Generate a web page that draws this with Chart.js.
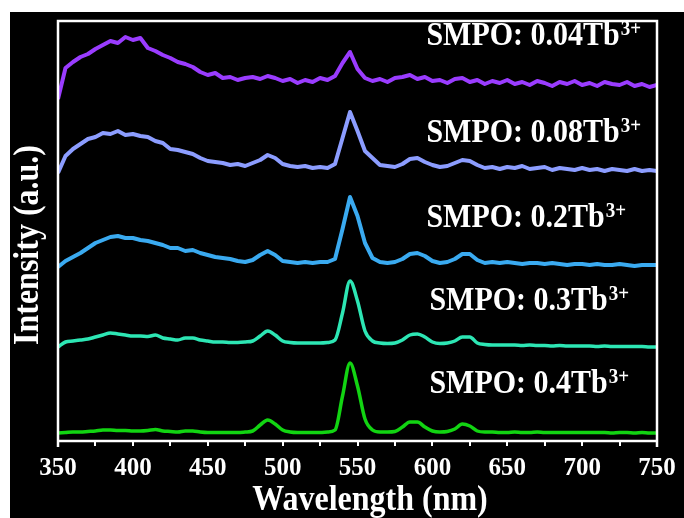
<!DOCTYPE html>
<html>
<head>
<meta charset="utf-8">
<script src="https://cdn.jsdelivr.net/npm/chart.js@4.4.1/dist/chart.umd.min.js"></script>
<style>
  body { margin: 0; background: #fff; }
  #box { position: absolute; left: 10px; top: 12px; width: 674px; height: 506px; background: #000; }
</style>
</head>
<body>
<div id="box"><canvas id="spectra"></canvas></div>
<script>
// x grid (nm)
const wavelength = [350, 355, 360, 365, 370, 375, 380, 385, 390, 395, 400, 405, 410, 415, 420, 425, 430, 435, 440, 445,
    450, 455, 460, 465, 470, 475, 480, 485, 490, 495, 500, 505, 510, 515, 520, 525, 530, 535, 540, 545,
    550, 555, 560, 565, 570, 575, 580, 585, 590, 595, 600, 605, 610, 615, 620, 625, 630, 635, 640, 645,
    650, 655, 660, 665, 670, 675, 680, 685, 690, 695, 700, 705, 710, 715, 720, 725, 730, 735, 740, 745, 750]

// intensities (a.u.), already stacked with offsets as in the figure
const tb004 = [342, 373, 379, 384, 387, 392, 396, 400, 398, 404, 401, 403, 393, 390, 386, 383, 379, 377, 374, 369,
    366, 368, 363, 364, 361, 363, 364, 362, 365, 363, 360, 362, 358, 361, 359, 363, 361, 365, 378, 389,
    372, 363, 360, 362, 359, 363, 364, 366, 362, 364, 360, 361, 358, 362, 363, 359, 361, 357, 360, 358,
    361, 357, 359, 356, 360, 358, 355, 359, 357, 360, 356, 358, 355, 359, 357, 356, 359, 355, 357, 354, 356]
const tb008 = [268, 285, 292, 297, 302, 304, 308, 307, 310, 306, 307, 305, 304, 300, 298, 292, 291, 289, 287, 283,
    280, 279, 278, 276, 277, 275, 278, 281, 286, 283, 277, 275, 274, 275, 273, 274, 273, 277, 303, 329,
    310, 290, 283, 276, 275, 274, 277, 282, 283, 279, 276, 274, 275, 278, 281, 280, 276, 273, 274, 272,
    274, 273, 275, 272, 273, 274, 271, 273, 272, 271, 273, 271, 272, 270, 272, 271, 270, 272, 270, 271, 270]
const tb02 = [174, 180, 184, 188, 193, 198, 201, 204, 205, 203, 203, 201, 200, 198, 196, 193, 193, 190, 191, 188,
    186, 184, 183, 182, 180, 179, 181, 186, 190, 186, 180, 179, 178, 179, 178, 179, 179, 182, 212, 244,
    225, 198, 183, 179, 178, 179, 182, 187, 188, 185, 180, 178, 179, 182, 187, 187, 181, 178, 179, 178,
    179, 178, 177, 178, 178, 177, 178, 177, 176, 177, 177, 176, 177, 176, 176, 177, 176, 175, 176, 176, 176]
const tb03 = [94, 99, 100, 101, 102, 104, 106, 108, 107, 106, 105, 105, 104.5, 106, 103, 102, 101, 103, 103, 101,
    100, 99, 99, 98.5, 98.5, 99, 100, 105, 110, 106, 100, 98.5, 98, 98, 98, 98, 98.5, 101, 128, 160,
    140, 110, 100, 98, 97.5, 98, 101, 106, 107, 104, 99, 97.5, 98, 100, 104, 104, 98, 96.5, 96, 96,
    96, 96, 95.5, 96, 95.5, 95.5, 95, 95.5, 95, 95, 95, 95, 94.5, 95, 94.5, 94.5, 94.5, 94.5, 94.5, 94, 94]
const tb04 = [8, 8.5, 9, 9, 9.5, 10, 11, 11, 10.5, 10.5, 10, 10, 10.5, 11.5, 10, 9.5, 9, 10, 10, 9,
    8.5, 8.5, 8.5, 8.5, 8.5, 9, 10, 16, 21, 17, 11, 9, 8.5, 8.5, 8.5, 8.5, 9, 11, 45, 78,
    55, 22, 11, 9, 9, 9.5, 14, 19, 19, 14, 10, 9, 9.5, 12, 17, 15, 10, 9, 9, 8.5,
    8.5, 9, 8.5, 8.5, 9, 8.5, 8.5, 8.5, 8.5, 8.5, 8.5, 8.5, 8.5, 8.5, 8, 8.5, 8.5, 8, 8.5, 8, 8]

const seriesNames = ['0.04', '0.08', '0.2', '0.3', '0.4']
const seriesColors = ['#9a3cff', '#8c9dff', '#3aaaf0', '#2de6b4', '#12d412']
const xTicks = [350, 400, 450, 500, 550, 600, 650, 700, 750]

const allSeries = [tb004, tb008, tb02, tb03, tb04]
const noisy = [true, true, true, false, false]
const labelY = [396, 299, 214, 131, 48] // baseline of each tag, in y units
const serif = "'Liberation Serif', 'Times New Roman', serif"

// text a bit taller than wide, like the original figure
function tallText(ctx, t, x, y, sy) {
    ctx.save()
    ctx.translate(x, y)
    ctx.scale(1, sy)
    ctx.fillText(t, 0, 0)
    ctx.restore()
}

const decor = {
    id: 'decor',
    afterDraw(chart) {
        const ctx = chart.ctx
        const a = chart.chartArea
        const xs = chart.scales.x, ys = chart.scales.y
        ctx.save()
        // frame
        ctx.strokeStyle = '#fff'
        ctx.lineWidth = 2.5
        ctx.beginPath()
        ctx.moveTo(a.left, a.bottom + 6)
        ctx.lineTo(a.left, a.top)
        ctx.lineTo(a.right, a.top)
        ctx.lineTo(a.right, a.bottom + 6)
        ctx.moveTo(a.left, a.bottom)
        ctx.lineTo(a.right, a.bottom)
        ctx.stroke()

        ctx.fillStyle = '#fff'
        // series tags
        seriesNames.forEach((n, i) => {
            const x = xs.getPixelForValue(i < 3 ? 596 : 598)
            const y = ys.getPixelForValue(labelY[i])
            ctx.font = 'bold 30px ' + serif
            ctx.textAlign = 'left'
            ctx.textBaseline = 'alphabetic'
            const t = 'SMPO: ' + n + 'Tb'
            tallText(ctx, t, x, y, 1.1)
            const w = ctx.measureText(t).width
            ctx.font = 'bold 19px ' + serif
            tallText(ctx, '3+', x + w + 1, y - 10, 1.1)
        })

        // axis titles
        ctx.font = 'bold 32px ' + serif
        ctx.textAlign = 'center'
        ctx.textBaseline = 'alphabetic'
        tallText(ctx, 'Wavelength (nm)', 360, 498, 1.1)
        ctx.translate(19, 233)
        ctx.rotate(-Math.PI / 2)
        ctx.scale(1, 1.1)
        ctx.textBaseline = 'middle'
        ctx.fillText('Intensity (a.u.)', 0, 0)
        ctx.restore()
    }
}

const datasets = allSeries.map((vals, i) => ({
    label: 'SMPO: ' + seriesNames[i] + 'Tb3+',
    data: wavelength.map((w, j) => ({ x: w, y: vals[j] })),
    borderColor: seriesColors[i],
    backgroundColor: seriesColors[i],
    borderWidth: noisy[i] ? 4 : 3.5,
    borderJoinStyle: 'round',
    pointRadius: 0,
    tension: 0,
    cubicInterpolationMode: noisy[i] ? 'default' : 'monotone'
}))

const chart = new Chart(document.getElementById('spectra'), {
    type: 'line',
    data: { datasets },
    options: {
        responsive: true,
        maintainAspectRatio: false,
        animation: false,
        layout: { padding: { left: 48, right: 27, top: 9, bottom: 0 } },
        plugins: { legend: { display: false }, tooltip: { enabled: false } },
        scales: {
            x: {
                type: 'linear',
                min: 350,
                max: 750,
                afterFit: s => { s.height = 77 },
                ticks: {
                    stepSize: 25,
                    autoSkip: false,
                    maxRotation: 0,
                    padding: 8,
                    color: '#fff',
                    font: { family: serif, size: 25, weight: 'bold' },
                    callback: v => xTicks.includes(v) ? v : ''
                },
                grid: { drawOnChartArea: false, color: '#fff', lineWidth: 2, tickLength: 5 },
                border: { display: false }
            },
            y: { display: false, min: 0, max: 420 }
        }
    },
    plugins: [decor]
})
</script>
</body>
</html>
